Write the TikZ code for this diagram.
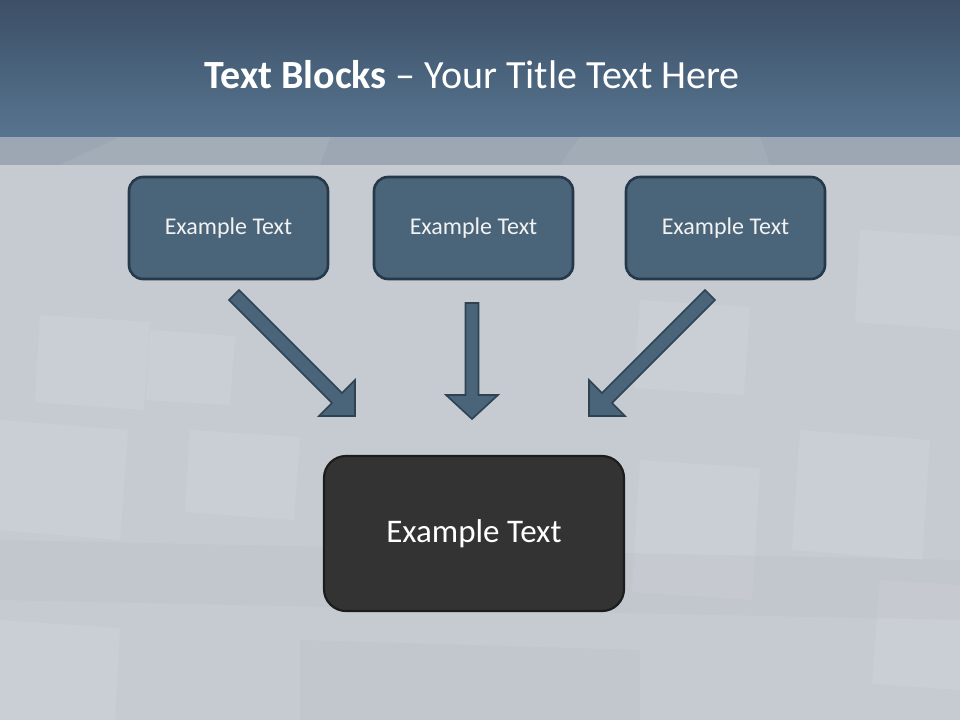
\documentclass[tikz,border=0pt]{standalone}
\usepackage{fontspec}
\setmainfont{Carlito}
\definecolor{bgc}{HTML}{C6CBD2}
\definecolor{hdtop}{HTML}{3C4F66}
\definecolor{hdbot}{HTML}{577590}
\definecolor{bandc}{HTML}{9CA7B3}
\definecolor{boxfill}{HTML}{4A6479}
\definecolor{boxline}{HTML}{26394A}
\definecolor{arrline}{HTML}{2F4252}
\definecolor{darkfill}{HTML}{333333}
\definecolor{darkline}{HTML}{1C1C1C}
\tikzset{
  topbox/.style={draw=boxline, fill=boxfill, line width=2.6pt, rounded corners=14pt,
    minimum width=199pt, minimum height=102pt, text=white!95!black,
    font=\fontsize{24}{29}\selectfont},
  bigbox/.style={draw=darkline, fill=darkfill, line width=2.2pt, rounded corners=22pt,
    minimum width=300pt, minimum height=155pt, text=white,
    font=\fontsize{33}{40}\selectfont},
  blockarr/.style={fill=boxfill, draw=arrline, line width=1.6pt, line join=miter},
  sq/.style={fill=white, fill opacity=0.07, draw=none},
  sqd/.style={fill=black, fill opacity=0.02, draw=none}
}
\begin{document}
\begin{tikzpicture}[x=1pt,y=-1pt]
\useasboundingbox (0,0) rectangle (960,720);
% background
\fill[bgc] (0,0) rectangle (960,720);
% faint background squares
\fill[sq] (0,420) -- (128,430) -- (120,540) -- (0,530) -- cycle;
\fill[sq] (40,315) -- (150,322) -- (144,410) -- (35,402) -- cycle;
\fill[sq] (150,330) -- (235,336) -- (230,405) -- (146,400) -- cycle;
\fill[sq] (640,460) -- (760,468) -- (752,600) -- (632,592) -- cycle;
\fill[sq] (800,430) -- (930,440) -- (922,560) -- (792,550) -- cycle;
\fill[sq] (860,230) -- (960,236) -- (960,330) -- (855,322) -- cycle;
\fill[sq] (190,430) -- (300,437) -- (294,520) -- (185,512) -- cycle;
\fill[sq] (0,620) -- (120,628) -- (115,720) -- (0,720) -- cycle;
\fill[sq] (880,580) -- (960,585) -- (960,690) -- (872,684) -- cycle;
\fill[sq] (640,300) -- (750,307) -- (744,395) -- (634,388) -- cycle;
\fill[sqd] (0,540) -- (960,560) -- (960,620) -- (0,600) -- cycle;
\fill[sqd] (300,640) -- (640,650) -- (640,720) -- (300,720) -- cycle;
% header
\shade[top color=hdtop, bottom color=hdbot] (0,0) rectangle (960,137);
\fill[bandc] (0,137) rectangle (960,165);
\fill[white, fill opacity=0.08] (60,165) -- (120,137) -- (330,137) -- (320,165) -- cycle;
\fill[white, fill opacity=0.06] (560,165) -- (580,137) -- (760,137) -- (770,165) -- cycle;
% title
\node[text=white, font=\fontsize{40}{48}\selectfont] (title) at (472,75)
  {\textbf{Text Blocks} -- Your Title Text Here};
% boxes
\node[topbox] (b1) at (228.5,228) {Example Text};
\node[topbox] (b2) at (473.5,228) {Example Text};
\node[topbox] (b3) at (725.5,228) {Example Text};
\node[bigbox] (b4) at (474,533.5) {Example Text};
% arrows
\draw[blockarr] (229.05,299.95) -- (238.95,290.05) -- (341.95,393.05) -- (355,380)
  -- (355,416) -- (319,416) -- (332.05,402.95) -- cycle;
\draw[blockarr] (465.5,303) -- (478.5,303) -- (478.5,395) -- (498,395)
  -- (472,419) -- (446,395) -- (465.5,395) -- cycle;
\draw[blockarr] (714.95,299.95) -- (705.05,290.05) -- (602.05,393.05) -- (589,380)
  -- (589,416) -- (625,416) -- (611.95,402.95) -- cycle;
\end{tikzpicture}
\end{document}
